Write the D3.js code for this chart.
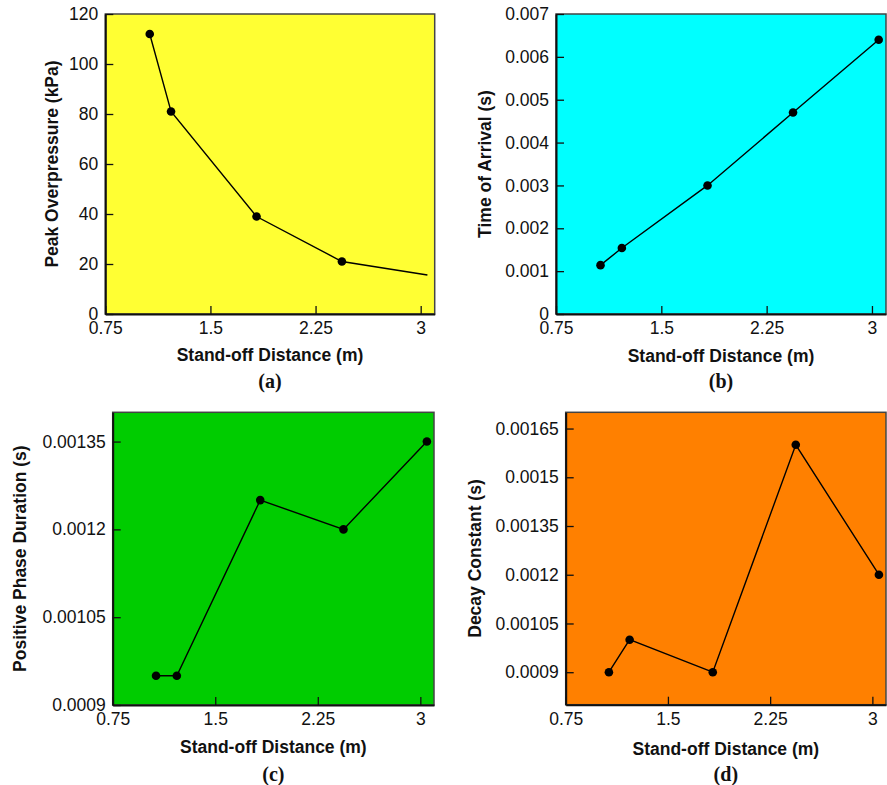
<!DOCTYPE html>
<html>
<head>
<meta charset="utf-8">
<script src="https://cdn.jsdelivr.net/npm/d3@7"></script>
<style>
  html, body { margin: 0; padding: 0; background: #fff; }
  svg { display: block; }
  .tick-label { font-family: "Liberation Sans", Arial, sans-serif; font-size: 17.5px; fill: #111; }
  .axis-title { font-family: "Liberation Sans", Arial, sans-serif; font-size: 17.5px; font-weight: bold; fill: #111; }
  .panel-label { font-family: "Liberation Serif", "Times New Roman", serif; font-size: 20px; font-weight: bold; fill: #111; }
</style>
</head>
<body>
<svg id="chart" width="887" height="785"></svg>
<script>
// Stand-off distances (m): 3.5, 4, 6, 8 and 10 ft
const standoff = [1.067, 1.219, 1.829, 2.438, 3.048];

// Blast parameters at each stand-off distance
const peakOverpressure = [112, 81, 39, 21, 15.6];          // kPa
const overpressureMarked = [true, true, true, true, false];
const timeOfArrival = [0.00114, 0.00154, 0.0030, 0.0047, 0.0064]; // s
const positivePhaseDuration = [0.00095, 0.00095, 0.00125, 0.0012, 0.00135]; // s
const decayConstant = [0.0009, 0.0010, 0.0009, 0.0016, 0.0012]; // s

// Tick labels
const xTicks = [0.75, 1.5, 2.25, 3];
const xTickLabels = ["0.75", "1.5", "2.25", "3"];
const ticksA = [0, 20, 40, 60, 80, 100, 120];
const ticksALabels = ["0", "20", "40", "60", "80", "100", "120"];
const ticksB = [0, 0.001, 0.002, 0.003, 0.004, 0.005, 0.006, 0.007];
const ticksBLabels = ["0", "0.001", "0.002", "0.003", "0.004", "0.005", "0.006", "0.007"];
const ticksC = [0.0009, 0.00105, 0.0012, 0.00135];
const ticksCLabels = ["0.0009", "0.00105", "0.0012", "0.00135"];
const ticksD = [0.0009, 0.00105, 0.0012, 0.00135, 0.0015, 0.00165];
const ticksDLabels = ["0.0009", "0.00105", "0.0012", "0.00135", "0.0015", "0.00165"];

const xTitle = "Stand-off Distance (m)";

const panels = [
  { id: "a", values: peakOverpressure, marked: overpressureMarked, yDomain: [0, 120],
    yTicks: ticksA, yLabels: ticksALabels, yTitle: "Peak Overpressure (kPa)", fill: "#ffff33",
    box: { left: 105.3, top: 14, right: 434.7, bottom: 314 }, yTitleOffset: 53.6,
    xTitleY: 361, labelY: 388 },
  { id: "b", values: timeOfArrival, yDomain: [0, 0.007],
    yTicks: ticksB, yLabels: ticksBLabels, yTitle: "Time of Arrival (s)", fill: "#00ffff",
    box: { left: 556, top: 14, right: 886, bottom: 314 }, yTitleOffset: 71,
    xTitleY: 362, labelY: 388 },
  { id: "c", values: positivePhaseDuration, yDomain: [0.0009, 0.0014],
    yTicks: ticksC, yLabels: ticksCLabels, yTitle: "Positive Phase Duration (s)", fill: "#00cc00",
    box: { left: 112.7, top: 412.3, right: 434, bottom: 705 }, yTitleOffset: 92.7,
    xTitleY: 753, labelY: 781 },
  { id: "d", values: decayConstant, yDomain: [0.0008, 0.0017],
    yTicks: ticksD, yLabels: ticksDLabels, yTitle: "Decay Constant (s)", fill: "#ff8000",
    box: { left: 565.7, top: 412.3, right: 886, bottom: 704.7 }, yTitleOffset: 90.7,
    xTitleY: 755, labelY: 781 }
];

const svg = d3.select("#chart");
svg.append("rect").attr("width", 887).attr("height", 785).attr("fill", "#fff");

panels.forEach(p => {
  const b = p.box;
  const x = d3.scaleLinear().domain([0.75, 3.1]).range([b.left, b.right]);
  const y = d3.scaleLinear().domain(p.yDomain).range([b.bottom, b.top]);
  const g = svg.append("g").attr("class", "panel-" + p.id);

  // plot background and frame
  g.append("rect")
    .attr("x", b.left).attr("y", b.top)
    .attr("width", b.right - b.left).attr("height", b.bottom - b.top)
    .attr("fill", p.fill).attr("stroke", "#444").attr("stroke-width", 1.5);

  // x axis: ticks pointing into the plot, labels below
  const xAxis = d3.axisBottom(x).tickValues(xTicks).tickSize(-8).tickSizeOuter(0)
    .tickFormat((d, i) => xTickLabels[i]).tickPadding(7.5);
  const xg = g.append("g").attr("transform", `translate(0,${b.bottom})`).call(xAxis);
  xg.select(".domain").attr("stroke", "#111").attr("stroke-width", 2);
  xg.selectAll(".tick line").attr("stroke", "#111").attr("stroke-width", 1.3);
  xg.selectAll(".tick text").attr("class", "tick-label").attr("dy", "0.71em");

  // y axis
  const yAxis = d3.axisLeft(y).tickValues(p.yTicks).tickSize(-8).tickSizeOuter(0)
    .tickFormat((d, i) => p.yLabels[i]).tickPadding(7);
  const yg = g.append("g").attr("transform", `translate(${b.left},0)`).call(yAxis);
  yg.select(".domain").attr("stroke", "#111").attr("stroke-width", 2);
  yg.selectAll(".tick line").attr("stroke", "#111").attr("stroke-width", 1.3);
  yg.selectAll(".tick text").attr("class", "tick-label");

  // data line and markers
  const pts = standoff.map((s, i) => ({ s, v: p.values[i], m: p.marked ? p.marked[i] : true }));
  const line = d3.line().x(d => x(d.s)).y(d => y(d.v));
  g.append("path").datum(pts).attr("d", line)
    .attr("fill", "none").attr("stroke", "#000").attr("stroke-width", 1.4);
  g.selectAll("circle.pt").data(pts.filter(d => d.m)).enter().append("circle")
    .attr("class", "pt").attr("cx", d => x(d.s)).attr("cy", d => y(d.v))
    .attr("r", 4.3).attr("fill", "#000");

  // axis titles
  const cx = (b.left + b.right) / 2;
  g.append("text").attr("class", "axis-title")
    .attr("x", cx).attr("y", p.xTitleY).attr("text-anchor", "middle").text(xTitle);
  const cy = (b.top + b.bottom) / 2;
  g.append("text").attr("class", "axis-title")
    .attr("transform", `translate(${b.left - p.yTitleOffset},${cy}) rotate(-90)`)
    .attr("text-anchor", "middle").attr("dy", "0.35em").text(p.yTitle);

  // panel label
  g.append("text").attr("class", "panel-label")
    .attr("x", cx).attr("y", p.labelY).attr("text-anchor", "middle").text(`(${p.id})`);
});
</script>
</body>
</html>
